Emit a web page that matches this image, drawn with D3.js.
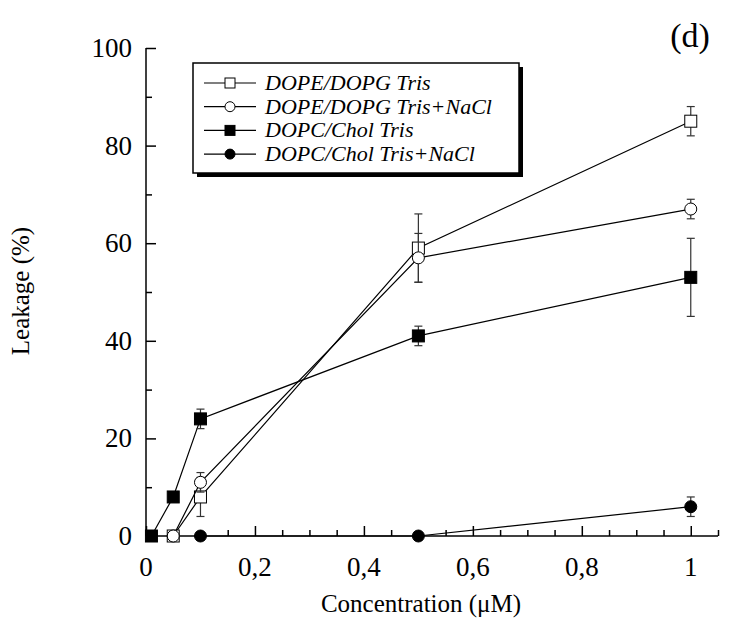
<!DOCTYPE html>
<html>
<head>
<meta charset="utf-8">
<script src="https://cdn.jsdelivr.net/npm/d3@7"></script>
<style>
body { margin: 0; background: #fff; }
text { font-family: "Liberation Serif", "Times New Roman", serif; }
</style>
</head>
<body>
<script>
var seriesNames = ["DOPE/DOPG Tris", "DOPE/DOPG Tris+NaCl", "DOPC/Chol Tris", "DOPC/Chol Tris+NaCl"];
var peTrisX = [0.05, 0.1, 0.5, 1], peTrisY = [0, 8, 59, 85], peTrisErr = [0, 4, 7, 3];
var peNaclX = [0.05, 0.1, 0.5, 1], peNaclY = [0, 11, 57, 67], peNaclErr = [0, 2, 5, 2];
var pcTrisX = [0.01, 0.05, 0.1, 0.5, 1], pcTrisY = [0, 8, 24, 41, 53], pcTrisErr = [0, 0, 2, 2, 8];
var pcNaclX = [0.1, 0.5, 1], pcNaclY = [0, 0, 6], pcNaclErr = [0, 0, 2];
var xTicks = [0, 0.2, 0.4, 0.6, 0.8, 1];
var xTickLabels = ["0", "0,2", "0,4", "0,6", "0,8", "1"];
var yTicks = [0, 20, 40, 60, 80, 100];

var width = 736, height = 627;
var svg = d3.select("body").append("svg").attr("width", width).attr("height", height);

var x = d3.scaleLinear().domain([0, 1.05]).range([146, 718]);
var y = d3.scaleLinear().domain([0, 100]).range([536, 48]);

function pts(xs, ys, es) { return xs.map(function(d, i){ return {x: d, y: ys[i], e: es[i]}; }); }
var series = [
  {name: seriesNames[0], data: pts(peTrisX, peTrisY, peTrisErr), shape: "square", fill: "#fff"},
  {name: seriesNames[1], data: pts(peNaclX, peNaclY, peNaclErr), shape: "circle", fill: "#fff"},
  {name: seriesNames[2], data: pts(pcTrisX, pcTrisY, pcTrisErr), shape: "square", fill: "#000"},
  {name: seriesNames[3], data: pts(pcNaclX, pcNaclY, pcNaclErr), shape: "circle", fill: "#000"}
];

// axes, ticks inward
var xAxis = svg.append("g").attr("transform", "translate(0," + y(0) + ")")
  .call(d3.axisTop(x).tickValues(d3.range(0, 1.051, 0.05)).tickSize(6).tickFormat(""));
xAxis.selectAll(".tick line").attr("y2", function(d){ return Math.abs(d*5 - Math.round(d*5)) < 1e-6 ? -10 : -6; });
xAxis.select(".domain").attr("d", "M146,0H718");
xAxis.selectAll("path,line").attr("stroke", "#000").attr("stroke-width", 1.5);

svg.selectAll("text.xlab").data(xTicks).enter().append("text")
  .attr("class", "xlab")
  .attr("x", function(d){ return x(d); }).attr("y", 576)
  .attr("text-anchor", "middle").attr("font-size", 27)
  .text(function(d, i){ return xTickLabels[i]; });

var yAxis = svg.append("g").attr("transform", "translate(" + x(0) + ",0)")
  .call(d3.axisRight(y).tickValues(d3.range(0, 101, 10)).tickFormat(""));
yAxis.selectAll(".tick line").attr("x2", function(d){ return d % 20 === 0 ? 10 : 6; });
yAxis.select(".domain").attr("d", "M0,48V536");
yAxis.selectAll("path,line").attr("stroke", "#000").attr("stroke-width", 1.5);

svg.selectAll("text.ylab").data(yTicks).enter().append("text")
  .attr("class", "ylab")
  .attr("x", 132).attr("y", function(d){ return y(d) + 9; })
  .attr("text-anchor", "end").attr("font-size", 27)
  .text(function(d){ return d; });

svg.append("text").attr("x", 421).attr("y", 612).attr("text-anchor", "middle")
  .attr("font-size", 25).text("Concentration (\u03bcM)");
svg.append("text").attr("transform", "translate(29,291) rotate(-90)").attr("text-anchor", "middle")
  .attr("font-size", 25).text("Leakage (%)");
svg.append("text").attr("x", 690).attr("y", 47).attr("text-anchor", "middle")
  .attr("font-size", 34).text("(d)");

var line = d3.line().x(function(d){ return x(d.x); }).y(function(d){ return y(d.y); });

function marker(g, shape, fill, cx, cy) {
  if (shape === "square") {
    g.append("rect").attr("x", cx - 6).attr("y", cy - 6).attr("width", 12).attr("height", 12)
      .attr("fill", fill).attr("stroke", "#000").attr("stroke-width", 1);
  } else {
    g.append("circle").attr("cx", cx).attr("cy", cy).attr("r", 6)
      .attr("fill", fill).attr("stroke", "#000").attr("stroke-width", 1);
  }
}

series.forEach(function(s) {
  var g = svg.append("g");
  g.append("path").datum(s.data).attr("d", line).attr("fill", "none").attr("stroke", "#000").attr("stroke-width", 1.2);
  s.data.filter(function(d){ return d.e > 0; }).forEach(function(d) {
    var cx = x(d.x);
    g.append("line").attr("x1", cx).attr("x2", cx).attr("y1", y(d.y - d.e)).attr("y2", y(d.y + d.e))
      .attr("stroke", "#333").attr("stroke-width", 1.2);
    [d.y - d.e, d.y + d.e].forEach(function(v) {
      g.append("line").attr("x1", cx - 4).attr("x2", cx + 4).attr("y1", y(v)).attr("y2", y(v))
        .attr("stroke", "#333").attr("stroke-width", 1.2);
    });
  });
  s.data.forEach(function(d){ marker(g, s.shape, s.fill, x(d.x), y(d.y)); });
});

// legend with shadow
var lg = svg.append("g");
lg.append("rect").attr("x", 197).attr("y", 67).attr("width", 326).attr("height", 110).attr("fill", "#000");
lg.append("rect").attr("x", 193).attr("y", 63).attr("width", 326).attr("height", 110)
  .attr("fill", "#fff").attr("stroke", "#000").attr("stroke-width", 1.5);
series.forEach(function(s, i) {
  var ly = 83 + i * 23.7;
  lg.append("line").attr("x1", 204).attr("x2", 256).attr("y1", ly).attr("y2", ly)
    .attr("stroke", "#000").attr("stroke-width", 1.2);
  if (s.shape === "square") {
    lg.append("rect").attr("x", 225).attr("y", ly - 5).attr("width", 10).attr("height", 10)
      .attr("fill", s.fill).attr("stroke", "#000");
  } else {
    lg.append("circle").attr("cx", 230).attr("cy", ly).attr("r", 5).attr("fill", s.fill).attr("stroke", "#000");
  }
  lg.append("text").attr("x", 265).attr("y", ly + 7).attr("font-size", 22)
    .attr("font-style", "italic").text(s.name);
});
</script>
</body>
</html>
